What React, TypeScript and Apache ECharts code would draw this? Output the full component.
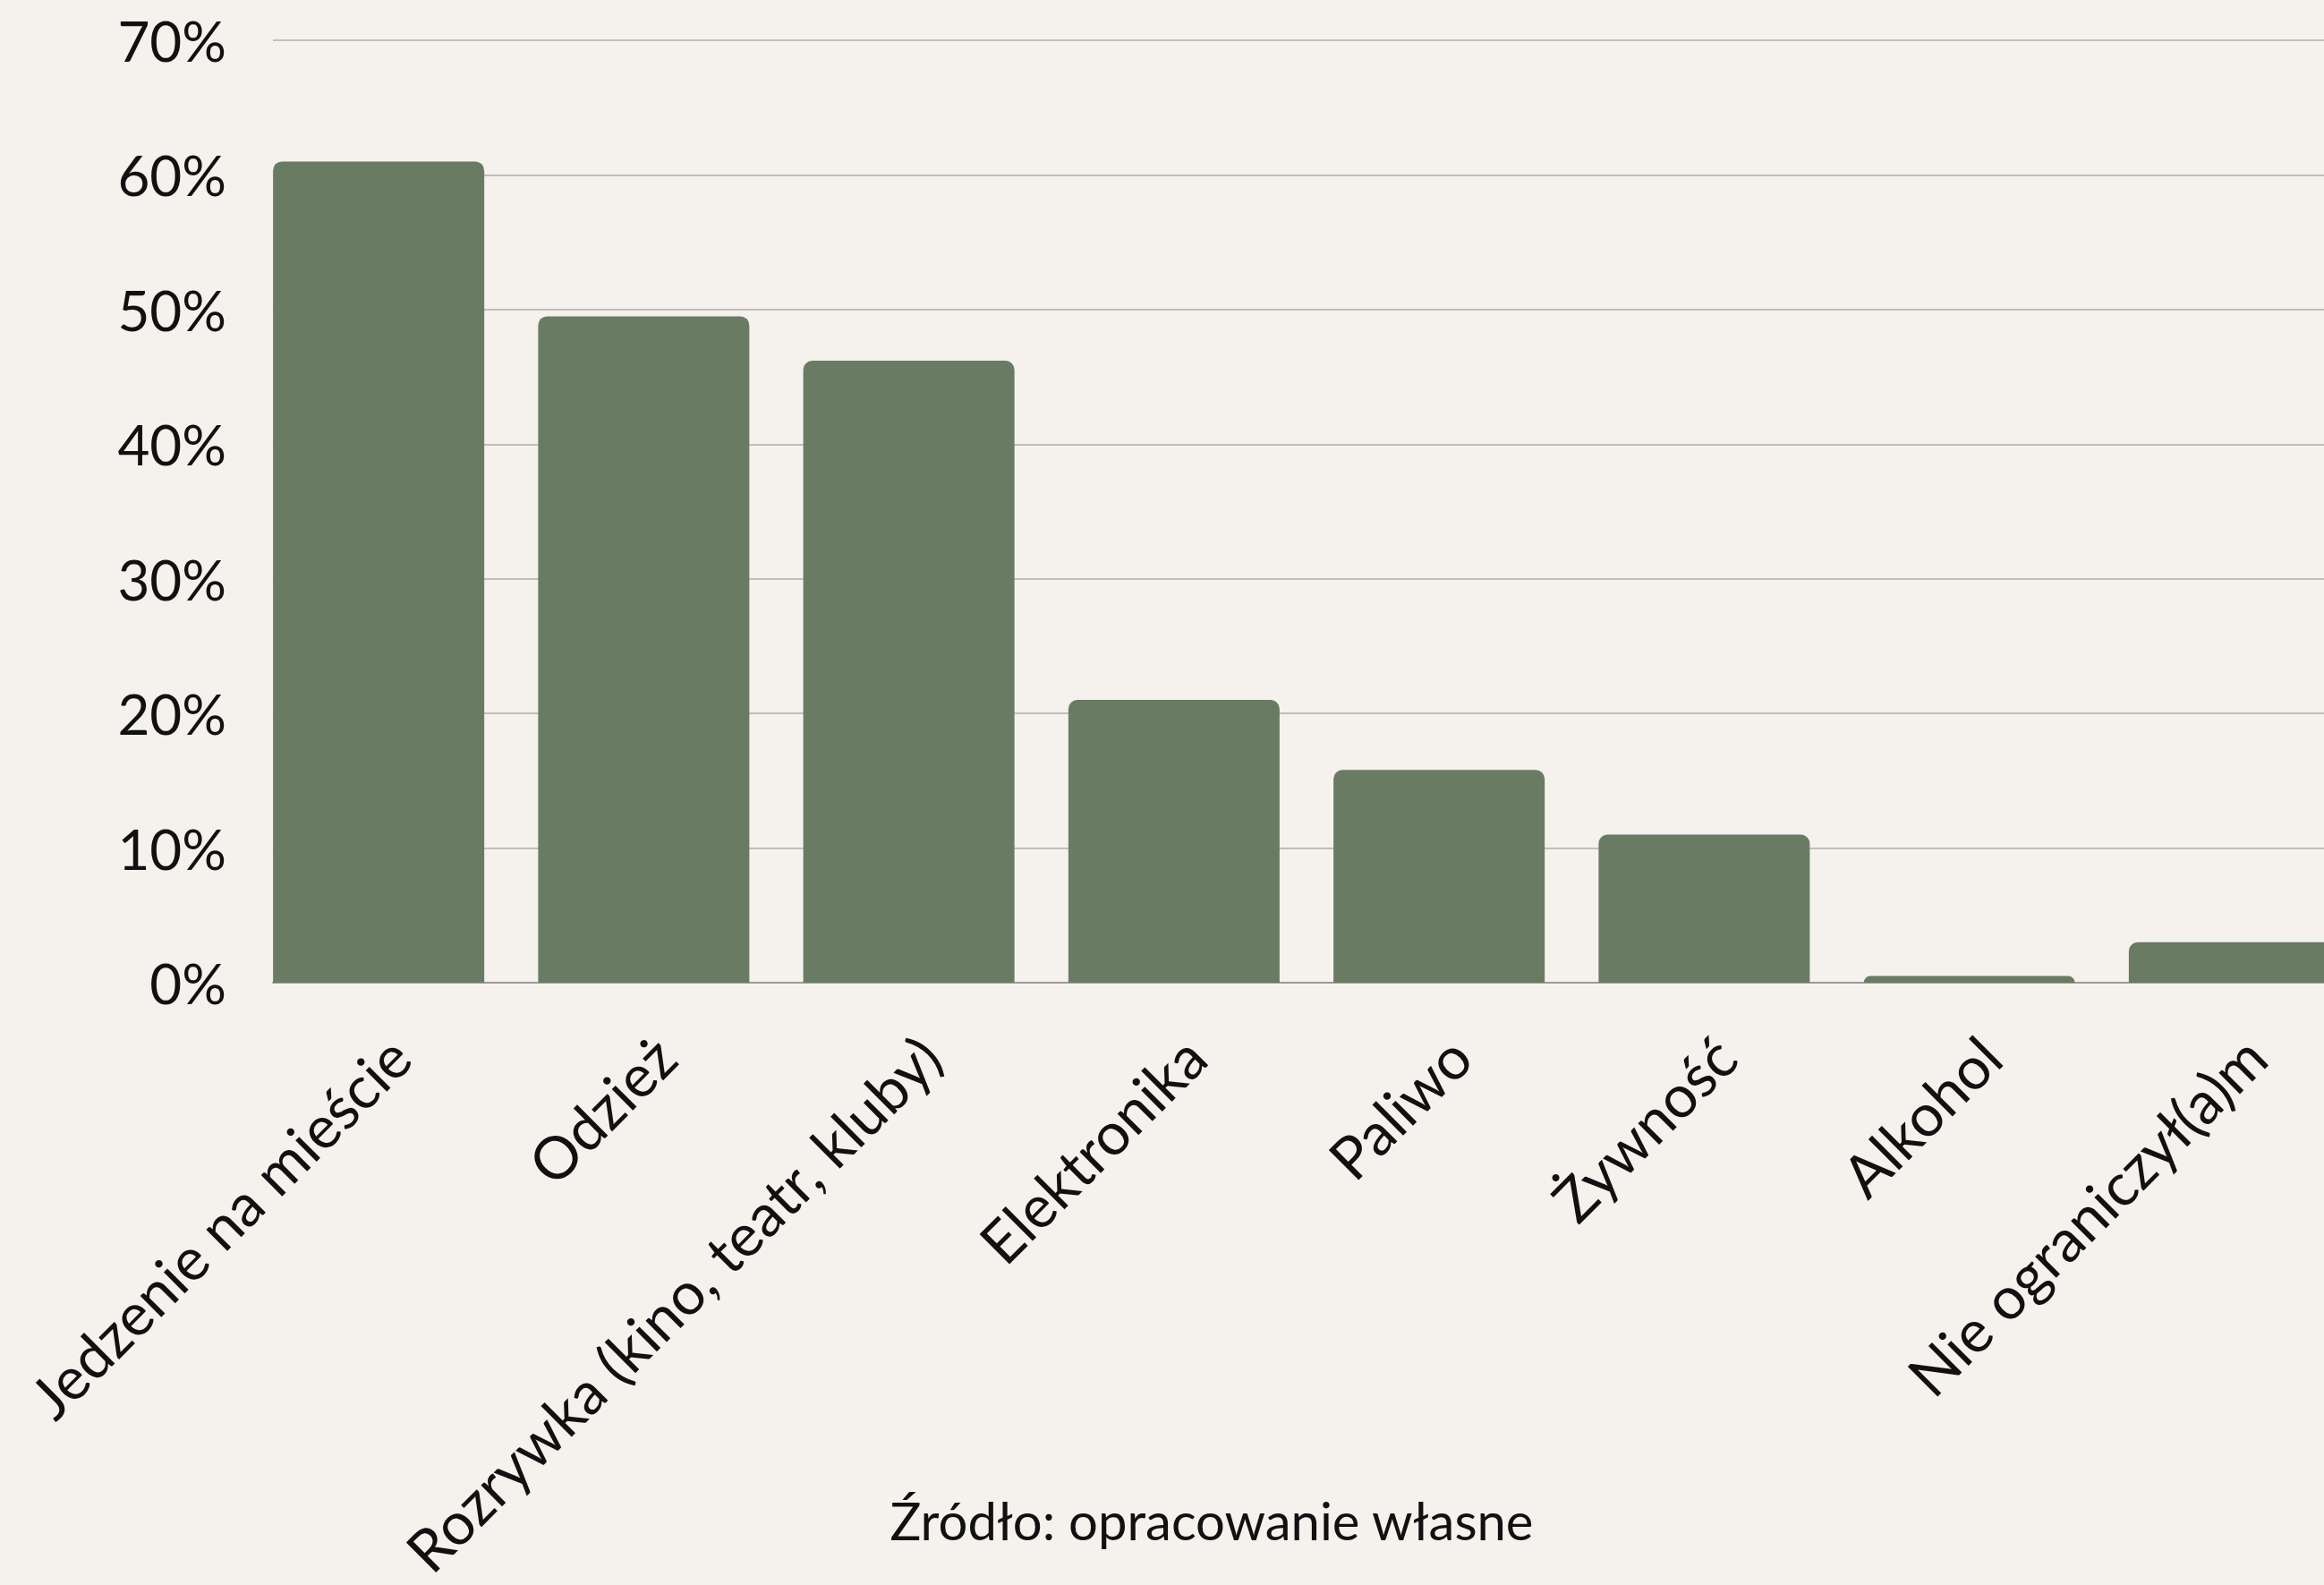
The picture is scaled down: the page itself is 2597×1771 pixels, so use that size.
import React, { useEffect, useRef } from "react";
import * as echarts from "echarts";

const categories = [
  "Jedzenie na mieście",
  "Odzież",
  "Rozrywka (kino, teatr, kluby)",
  "Elektronika",
  "Paliwo",
  "Żywność",
  "Alkohol",
  "Nie ograniczył(a)m",
];
const values = [61, 49.5, 46.2, 21, 15.8, 11, 0.5, 3];
const yMin = 0;
const yMax = 70;
const yStep = 10;
const sourceText = "Źródło: opracowanie własne";

const BG = "#F5F2EE";
const BAR = "#6A7B63";
const FONT = "Lato";

export default function App() {
  const ref = useRef<HTMLDivElement>(null);
  useEffect(() => {
    document.body.style.margin = "0";
    document.body.style.background = BG;
    const chart = echarts.init(ref.current!, null, { renderer: "svg" });
    const top = 45;
    const bottom = 1771 - 1098;
    chart.setOption({
      animation: false,
      backgroundColor: BG,
      textStyle: { fontFamily: FONT },
      grid: [
        { left: 305, right: 0, top, bottom, outerBoundsMode: "none", containLabel: false },
        { left: 275, width: 2370, top, bottom, outerBoundsMode: "none", containLabel: false },
      ],
      xAxis: [
        {
          type: "value",
          gridIndex: 0,
          min: 0,
          max: 1,
          axisLine: { show: true, lineStyle: { color: "#9E9B97", width: 2 } },
          axisTick: { show: false },
          axisLabel: { show: false },
          splitLine: { show: false },
        },
        {
          type: "category",
          gridIndex: 1,
          data: categories,
          axisLine: { show: false },
          axisTick: { show: false },
          axisLabel: {
            interval: 0,
            rotate: 45,
            margin: 48,
            fontSize: 66,
            verticalAlign: "top",
            color: "#111",
            fontFamily: FONT,
          },
        },
      ],
      yAxis: [
        {
          type: "value",
          gridIndex: 0,
          min: yMin,
          max: yMax,
          interval: yStep,
          axisLine: { show: false },
          axisTick: { show: false },
          axisLabel: {
            formatter: "{value}%",
            fontSize: 62,
            color: "#111",
            margin: 52,
            padding: [0, 0, 6, 0],
            fontFamily: FONT,
          },
          splitLine: { show: true, lineStyle: { color: "#C2BEBA", width: 2 } },
        },
        {
          type: "value",
          gridIndex: 1,
          min: yMin,
          max: yMax,
          interval: yStep,
          show: false,
          splitLine: { show: false },
        },
      ],
      series: [
        {
          type: "bar",
          xAxisIndex: 1,
          yAxisIndex: 1,
          data: values,
          barWidth: 236,
          itemStyle: { color: BAR, borderRadius: [10, 10, 0, 0] },
        },
      ],
      graphic: [
        {
          type: "text",
          x: 1354,
          y: 1698,
          style: {
            text: sourceText,
            fontSize: 58,
            fontFamily: FONT,
            fill: "#111",
            textAlign: "center",
            textVerticalAlign: "middle",
          },
        },
      ],
    });
    return () => chart.dispose();
  }, []);
  return <div ref={ref} style={{ width: 2597, height: 1771 }} />;
}
